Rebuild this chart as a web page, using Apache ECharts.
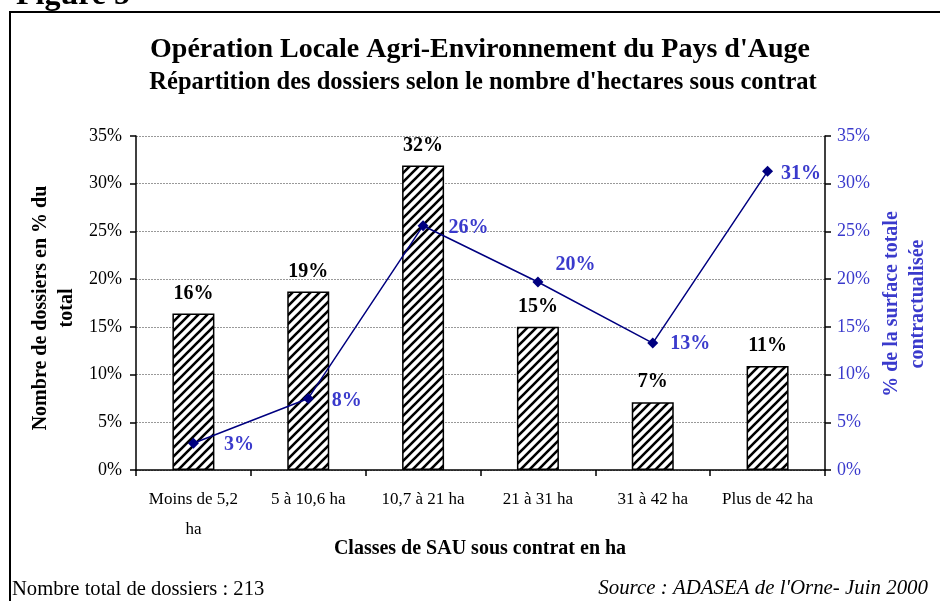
<!DOCTYPE html>
<html><head><meta charset="utf-8">
<script src="https://cdn.jsdelivr.net/npm/echarts@6/dist/echarts.min.js"></script>
<style>html,body{margin:0;padding:0;background:#fff}#c{width:940px;height:601px}</style>
</head><body><div id="c"></div>
<script>
const categories = ['Moins de 5,2\nha', '5 à 10,6 ha', '10,7 à 21 ha', '21 à 31 ha', '31 à 42 ha', 'Plus de 42 ha'];
const dossiersPct = [16.4, 18.7, 31.9, 15.0, 7.1, 10.9];
const surfacePct = [2.8, 7.5, 25.6, 19.7, 13.3, 31.3];
const yTicks = [0, 5, 10, 15, 20, 25, 30, 35];

const F = '"Liberation Serif","Times New Roman",serif';
const BLUE = '#3a3acc';
const NAVY = '#000080';

const tile = document.createElement('canvas');
tile.width = 9; tile.height = 9;
const g = tile.getContext('2d');
g.fillStyle = '#fff'; g.fillRect(0, 0, 9, 9);
g.strokeStyle = '#000'; g.lineWidth = 2.6;
g.beginPath();
g.moveTo(-2, 11); g.lineTo(11, -2);
g.moveTo(-11, 11); g.lineTo(2, -2);
g.moveTo(7, 11); g.lineTo(20, -2);
g.stroke();

const lineLabelOffsets = [[13, 2], [6, 2], [8, 2], [0, -17], [0, 1], [-4, 3]];

const chart = echarts.init(document.getElementById('c'));
chart.setOption({
  animation: false,
  textStyle: { fontFamily: F },
  grid: { left: 136, right: 115, top: 136, bottom: 131 },
  graphic: [
    { type: 'rect', shape: { x: 10, y: 12, width: 960, height: 620 }, style: { fill: 'none', stroke: '#000', lineWidth: 2 }, silent: true },
    { type: 'text', x: 16, y: 12, style: { text: 'Figure 5', font: 'bold 32px ' + F, fill: '#000', verticalAlign: 'bottom' } },
    { type: 'text', x: 480, y: 50, style: { text: "Opération Locale Agri-Environnement du Pays d'Auge", font: 'bold 28px ' + F, fill: '#000', align: 'center', verticalAlign: 'middle' } },
    { type: 'text', x: 483, y: 83, style: { text: "Répartition des dossiers selon le nombre d'hectares sous contrat", font: 'bold 24.5px ' + F, fill: '#000', align: 'center', verticalAlign: 'middle' } },
    { type: 'text', x: 54, y: 308, rotation: Math.PI / 2, style: { text: 'Nombre de dossiers en % du\ntotal', font: 'bold 20px ' + F, fill: '#000', align: 'center', verticalAlign: 'middle', lineHeight: 26 } },
    { type: 'text', x: 905, y: 304, rotation: Math.PI / 2, style: { text: '% de la surface totale\ncontractualisée', font: 'bold 20px ' + F, fill: BLUE, align: 'center', verticalAlign: 'middle', lineHeight: 26 } },
    { type: 'text', x: 480, y: 549, style: { text: 'Classes de SAU sous contrat en ha', font: 'bold 20px ' + F, fill: '#000', align: 'center', verticalAlign: 'middle' } },
    { type: 'text', x: 12, y: 590, style: { text: 'Nombre total de dossiers : 213', font: '20.6px ' + F, fill: '#000', verticalAlign: 'middle' } },
    { type: 'text', x: 928, y: 589, style: { text: "Source : ADASEA de l'Orne- Juin 2000", font: 'italic 20.9px ' + F, fill: '#000', align: 'right', verticalAlign: 'middle' } }
  ],
  xAxis: {
    type: 'category', data: categories,
    axisLine: { lineStyle: { color: '#000', width: 1.5 } },
    axisTick: { show: true, length: 6, lineStyle: { color: '#000', width: 1.5 } },
    axisLabel: { color: '#000', fontSize: 17, fontFamily: F, margin: 15, lineHeight: 30, interval: 0 }
  },
  yAxis: [
    {
      type: 'value', min: 0, max: 35, interval: 5, position: 'left',
      axisLine: { show: true, lineStyle: { color: '#000', width: 1.5 } },
      axisTick: { show: true, length: 6, lineStyle: { color: '#000', width: 1.5 } },
      axisLabel: { color: '#000', fontSize: 18, fontFamily: F, margin: 14, formatter: v => yTicks.includes(v) ? v + '%' : '' },
      splitLine: { show: true, lineStyle: { color: '#999', type: [2, 1], width: 1 } }
    },
    {
      type: 'value', min: 0, max: 35, interval: 5, position: 'right',
      axisLine: { show: true, lineStyle: { color: '#000', width: 1.5 } },
      axisTick: { show: true, length: 6, lineStyle: { color: '#000', width: 1.5 } },
      axisLabel: { color: BLUE, fontSize: 18, fontFamily: F, margin: 12, formatter: v => v + '%' },
      splitLine: { show: false }
    }
  ],
  series: [
    {
      type: 'bar', data: dossiersPct, barWidth: 42, yAxisIndex: 0,
      itemStyle: { color: { image: tile, repeat: 'repeat' }, borderColor: '#000', borderWidth: 1.5 },
      label: { show: true, position: 'top', distance: 10, color: '#000', fontSize: 20, fontWeight: 'bold', fontFamily: F, formatter: p => Math.round(p.value) + '%' },
      z: 2
    },
    {
      type: 'line', yAxisIndex: 1, symbol: 'diamond', symbolSize: 11,
      data: surfacePct.map((v, i) => ({ value: v, label: { offset: lineLabelOffsets[i] } })),
      lineStyle: { color: NAVY, width: 1.5 },
      itemStyle: { color: NAVY },
      label: { show: true, position: 'right', distance: 12, color: BLUE, fontSize: 20, fontWeight: 'bold', fontFamily: F, formatter: p => Math.round(p.value) + '%' },
      z: 3
    }
  ]
});
</script></body></html>
